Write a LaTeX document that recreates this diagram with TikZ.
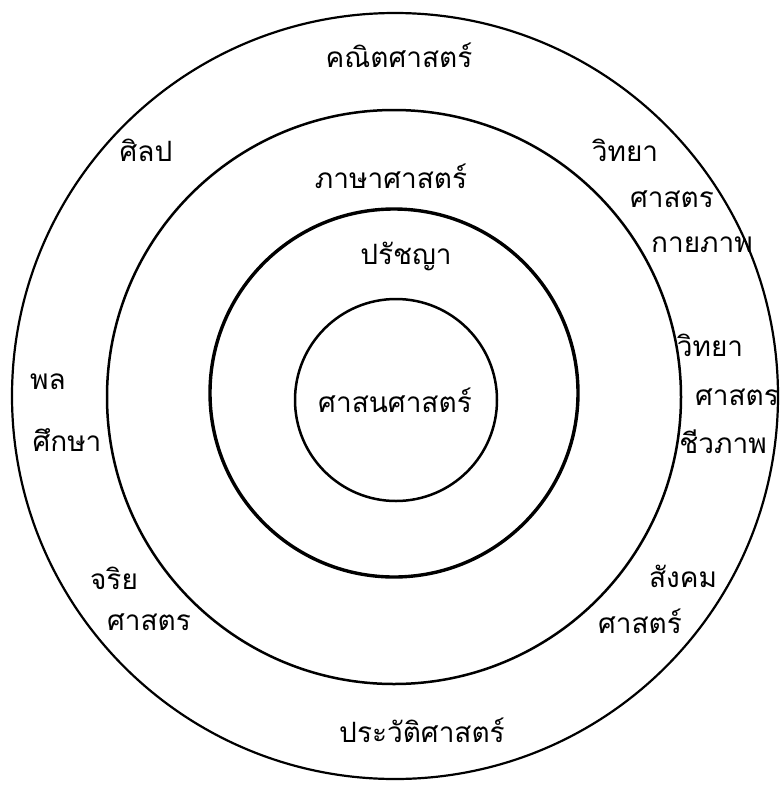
\documentclass[tikz,border=0pt]{standalone}
\usepackage{fontspec}
\newfontfamily\thaifont[Script=Thai]{Loma}

\begin{document}
\begin{tikzpicture}[x=1pt,y=-1pt,
  every node/.style={font=\thaifont\fontsize{28}{30}\selectfont, inner sep=0pt},
  ring/.style={line width=2.5pt}]
\useasboundingbox (0,0) rectangle (780,785);
% rings
\draw[ring, line width=2.2pt] (395,396) circle (383pt);
\draw[ring] (394,397) circle (287pt);
\draw[ring, line width=3.4pt] (394,393) circle (184pt);
\draw[ring] (396,400) circle (101pt);
% outer ring
\node (kanit) at (399,55) {คณิตศาสตร์};
\node (sinlapa) at (146,150) {ศิลป};
\node (wit1) at (625,150) {วิทยา};
\node (sat1) at (672,199) {ศาสตร};
\node (kai) at (702,245) {กายภาพ};
\node (phon) at (48,382) {พล};
\node (suksa) at (67,440) {ศึกษา};
\node (wit2) at (710,345) {วิทยา};
\node (sat2) at (737,397) {ศาสตร};
\node (chiwa) at (723,442) {ชีวภาพ};
\node (sangkhom) at (683,576) {สังคม};
\node (sat3) at (640,621) {ศาสตร์};
\node (chari) at (114,578) {จริย};
\node (sat4) at (149,622) {ศาสตร};
\node (prawat) at (422,730) {ประวัติศาสตร์};
% middle rings
\node (phasa) at (391,176) {ภาษาศาสตร์};
\node (pratya) at (406,256) {ปรัชญา};
\node (satsana) at (395,400) {ศาสนศาสตร์};
\end{tikzpicture}
\end{document}
